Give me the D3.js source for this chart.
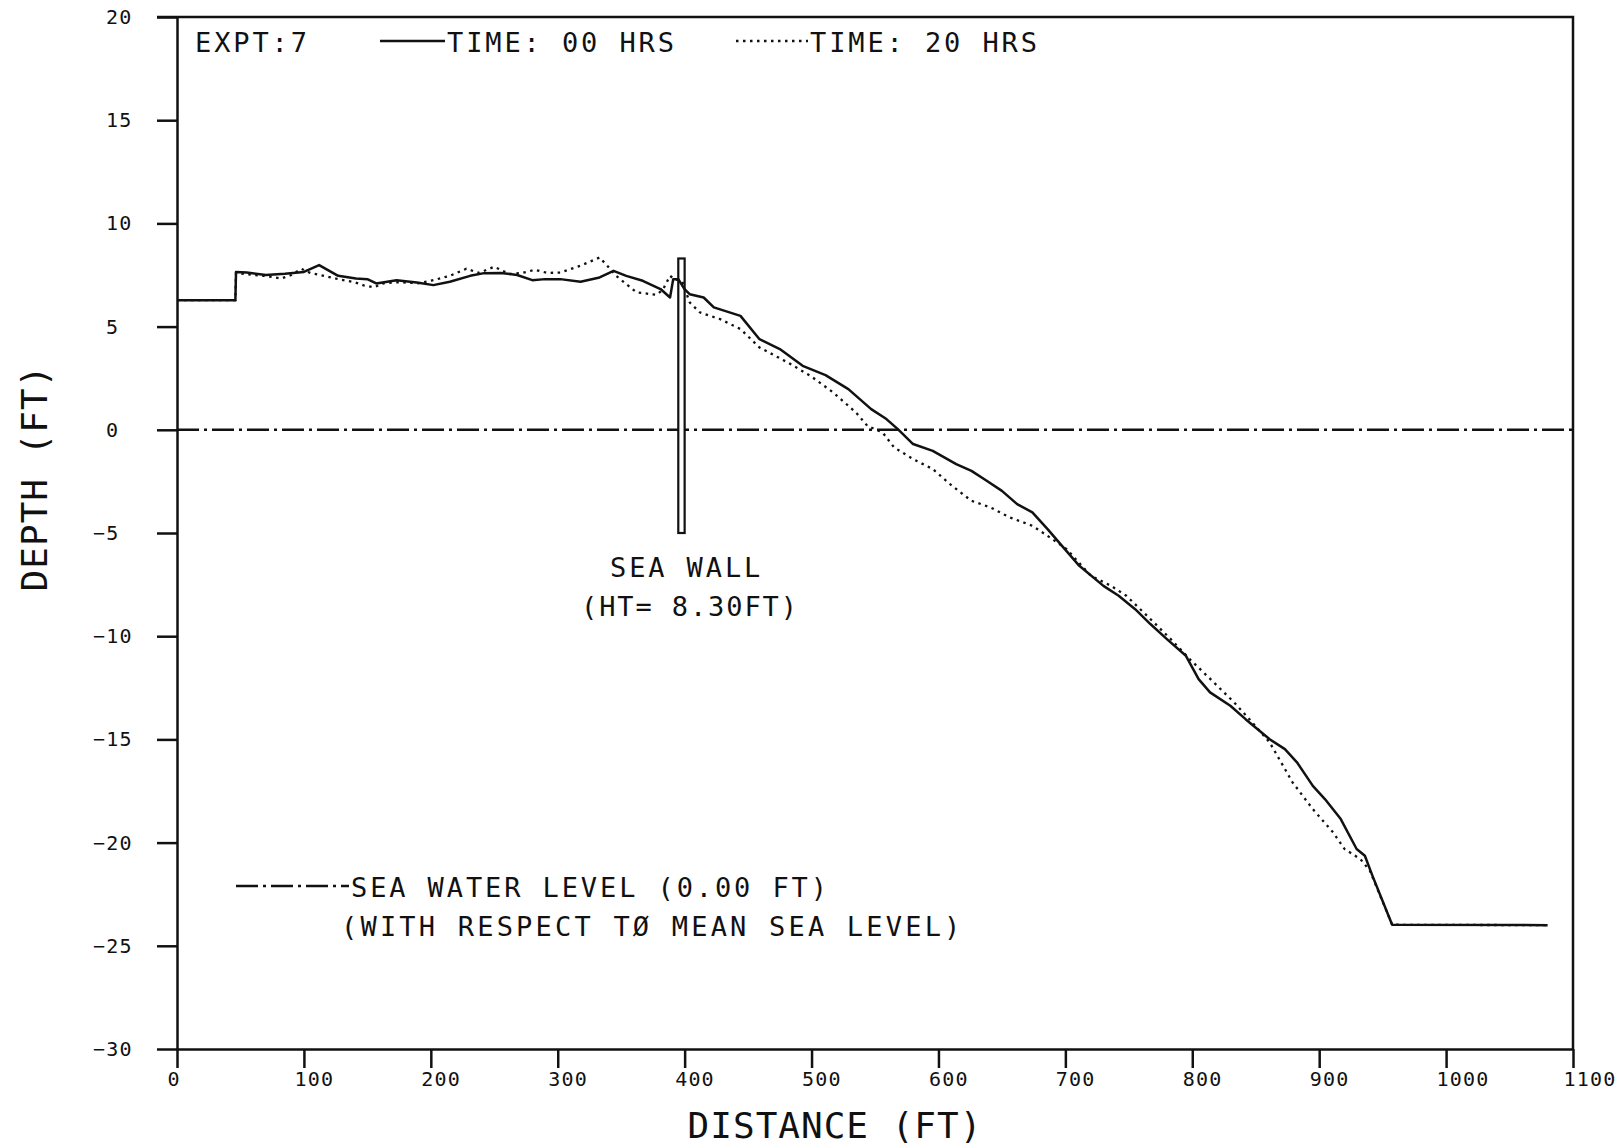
<!DOCTYPE html>
<html>
<head>
<meta charset="utf-8">
<script src="https://cdn.jsdelivr.net/npm/d3@7"></script>
<style>
  html, body { margin: 0; padding: 0; background: #fff; }
  svg { display: block; }
  text { font-family: "DejaVu Sans Mono", monospace; fill: #111; }
</style>
</head>
<body>
<svg id="chart" width="1621" height="1147"></svg>
<script>
// Profile at time 00 hrs (solid)
const dist00 = [0, 46, 46.5, 55, 70, 85, 100, 112, 120, 127, 141, 150, 157, 173, 189, 202, 215, 231, 242, 255, 268, 280, 290,
  302, 318, 333, 344, 354, 367, 381, 388.5, 391, 395, 400, 404, 415, 423, 444, 459, 475, 493, 511, 529, 547, 559, 568,
  580, 595.5, 614, 626, 638, 650, 662, 674, 686, 697, 711, 730, 742, 755, 767, 780, 795, 805, 814, 830, 842, 861, 873,
  882.5, 895, 904.5, 917, 929.5, 936, 942, 957.5, 1080];
const depth00 = [6.28, 6.28, 7.65, 7.62, 7.5, 7.56, 7.65, 7.98, 7.7, 7.46, 7.33, 7.3, 7.09, 7.25, 7.14, 7.01, 7.17, 7.46, 7.59, 7.6, 7.5, 7.25, 7.3,
  7.3, 7.17, 7.38, 7.7, 7.46, 7.22, 6.82, 6.41, 7.3, 7.3, 6.8, 6.57, 6.41, 5.93, 5.52, 4.39, 3.91, 3.1, 2.65, 1.97, 1.0, 0.52, 0.03,
  -0.69, -1.02, -1.66, -1.99, -2.47, -2.96, -3.6, -4.0, -4.81, -5.6, -6.59, -7.56, -8.04, -8.69, -9.41, -10.14, -10.95, -12.08, -12.72, -13.37, -14.02, -14.99, -15.47,
  -16.11, -17.25, -17.89, -18.86, -20.31, -20.64, -21.61, -23.98, -24];

// Profile at time 20 hrs (dotted)
const dist20 = [0, 46, 46.5, 60, 70, 82, 90, 98, 105, 113, 120, 127, 140, 147, 155, 163, 175, 190, 202, 215, 228, 238, 250, 262, 272, 282, 292,
  302, 318, 333, 339, 346, 362, 378, 383, 388.5, 392, 398, 404, 412, 428, 444, 459, 481, 499, 517, 535, 544, 556, 565,
  580, 595.5, 610.6, 626, 641, 656, 674, 686, 701, 720, 736, 748, 767, 783, 798, 817, 833, 845, 861, 867, 879, 895, 911,
  920, 932.5, 940, 957.5, 1080];
const depth20 = [6.28, 6.28, 7.6, 7.5, 7.45, 7.33, 7.5, 7.8, 7.6, 7.5, 7.4, 7.3, 7.15, 7.0, 6.9, 7.1, 7.15, 7.1, 7.25, 7.46, 7.8, 7.6, 7.9, 7.55, 7.6, 7.75, 7.6,
  7.62, 7.95, 8.35, 7.95, 7.46, 6.66, 6.54, 6.8, 7.46, 7.3, 7.2, 6.17, 5.69, 5.36, 4.88, 3.99, 3.27, 2.62, 1.81, 0.84, 0.19, -0.13, -0.85,
  -1.42, -1.9, -2.71, -3.44, -3.76, -4.24, -4.65, -5.14, -5.78, -7.07, -7.56, -8.04, -9.17, -10.14, -11.11, -12.24, -13.21, -14.02, -15.15, -15.79, -17.08, -18.38, -19.51,
  -20.31, -20.8, -21.37, -23.98, -24];

const xTicks = [0, 100, 200, 300, 400, 500, 600, 700, 800, 900, 1000, 1100];
const yTicks = [20, 15, 10, 5, 0, -5, -10, -15, -20, -25, -30];

const seaLevel = 0;
const wallFrom = 395, wallTo = 400, wallBase = -5, wallTop = 8.3;

const svg = d3.select("#chart");

const m = { left: 177, right: 1573, top: 17, bottom: 1049 };

const x = d3.scaleLinear().domain([0, 1100]).range([m.left, m.right]);
const y = d3.scaleLinear().domain([-30, 20]).range([m.bottom, m.top]);

const ink = "#111";

// y axis
const yAxis = svg.append("g")
    .attr("transform", `translate(${m.left},0)`)
    .call(d3.axisLeft(y).tickValues(yTicks).tickSize(20).tickSizeOuter(0)
        .tickFormat(d3.format("d")));
yAxis.select(".domain").attr("stroke", ink).attr("stroke-width", 2.5);
yAxis.selectAll(".tick line").attr("stroke", ink).attr("stroke-width", 2.5);
yAxis.selectAll(".tick text")
    .attr("text-anchor", "start")
    .attr("x", d => 106 - m.left - (d < 0 ? 13 : 0))
    .attr("font-size", 20)
    .attr("letter-spacing", 1.2)
    .attr("font-family", null)
    .attr("fill", ink);

// x axis
const xAxis = svg.append("g")
    .attr("transform", `translate(0,${m.bottom})`)
    .call(d3.axisBottom(x).tickValues(xTicks).tickSize(19).tickSizeOuter(0)
        .tickFormat(d3.format("d")));
xAxis.select(".domain").attr("stroke", ink).attr("stroke-width", 2.5);
xAxis.selectAll(".tick line").attr("stroke", ink).attr("stroke-width", 2.5);
xAxis.selectAll(".tick text")
    .attr("text-anchor", "start")
    .attr("x", -10)
    .attr("y", 37)
    .attr("dy", null)
    .attr("font-size", 20)
    .attr("letter-spacing", 1.2)
    .attr("font-family", null)
    .attr("fill", ink);

// frame: top and right sides
svg.append("path")
    .attr("d", `M${m.left - 20},${m.top}H${m.right}V${m.bottom}`)
    .attr("fill", "none")
    .attr("stroke", ink)
    .attr("stroke-width", 2.5);

// sea water level
svg.append("line")
    .attr("x1", x(0)).attr("x2", x(1100))
    .attr("y1", y(seaLevel)).attr("y2", y(seaLevel))
    .attr("stroke", ink).attr("stroke-width", 2.5)
    .attr("stroke-dasharray", "22,5,3,5");

// sea wall
svg.append("rect")
    .attr("x", x(wallFrom)).attr("y", y(wallTop))
    .attr("width", x(wallTo) - x(wallFrom))
    .attr("height", y(wallBase) - y(wallTop))
    .attr("fill", "#fff")
    .attr("stroke", ink).attr("stroke-width", 2.2);

const line = d3.line().x(d => x(d[0])).y(d => y(d[1]));

svg.append("path")
    .datum(dist20.map((d, i) => [d, depth20[i]]))
    .attr("d", line)
    .attr("fill", "none")
    .attr("stroke", ink).attr("stroke-width", 2.3)
    .attr("stroke-dasharray", "2.5,4.5");

svg.append("path")
    .datum(dist00.map((d, i) => [d, depth00[i]]))
    .attr("d", line)
    .attr("fill", "none")
    .attr("stroke", ink).attr("stroke-width", 2.5)
    .attr("stroke-linejoin", "round");

// labels
const big = (sel) => sel.attr("font-size", 27).attr("letter-spacing", 2.9);

big(svg.append("text").attr("x", 195).attr("y", 52).text("EXPT:7"));

svg.append("line").attr("x1", 380).attr("x2", 445).attr("y1", 41).attr("y2", 41)
    .attr("stroke", ink).attr("stroke-width", 2.5);
big(svg.append("text").attr("x", 447).attr("y", 52).text("TIME: 00 HRS"));

svg.append("line").attr("x1", 736).attr("x2", 808).attr("y1", 41).attr("y2", 41)
    .attr("stroke", ink).attr("stroke-width", 2.3).attr("stroke-dasharray", "2.5,4.5");
big(svg.append("text").attr("x", 810).attr("y", 52).text("TIME: 20 HRS"));

big(svg.append("text").attr("x", 610).attr("y", 577).text("SEA WALL"));
big(svg.append("text").attr("x", 581).attr("y", 616).text("(HT= 8.30FT)"))
    .attr("letter-spacing", 1.9);

svg.append("line").attr("x1", 236).attr("x2", 349).attr("y1", 886).attr("y2", 886)
    .attr("stroke", ink).attr("stroke-width", 2.5).attr("stroke-dasharray", "22,5,3,5");
big(svg.append("text").attr("x", 351).attr("y", 897).text("SEA WATER LEVEL (0.00 FT)"));
big(svg.append("text").attr("x", 341).attr("y", 936).text("(WITH RESPECT TØ MEAN SEA LEVEL)"))
    .attr("letter-spacing", 3.2);

// axis titles
svg.append("text")
    .attr("transform", "translate(47,478) rotate(-90)")
    .attr("text-anchor", "middle")
    .attr("font-size", 36).attr("letter-spacing", 1)
    .text("DEPTH (FT)");

svg.append("text")
    .attr("x", 835).attr("y", 1138)
    .attr("text-anchor", "middle")
    .attr("font-size", 36).attr("letter-spacing", 1)
    .text("DISTANCE (FT)");
</script>
</body>
</html>
